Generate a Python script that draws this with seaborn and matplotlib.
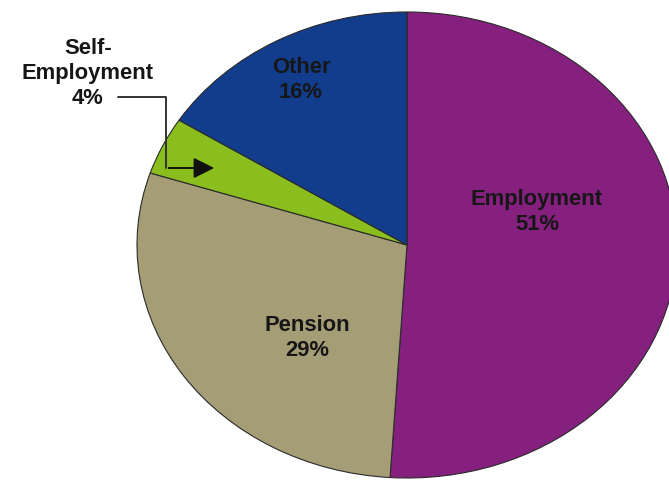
import matplotlib
matplotlib.use("Agg")
import matplotlib.pyplot as plt
import seaborn as sns
from matplotlib.lines import Line2D
from matplotlib.patches import FancyArrowPatch

sns.set_theme(style="white")
plt.rcParams["font.family"] = ["Liberation Sans", "DejaVu Sans"]

# Income sources, clockwise from 12 o'clock
categories = ["Employment", "Pension", "Self-\nEmployment", "Other"]
shares = [51, 29, 4, 16]
colors = ["#86207F", "#A59D76", "#89BE1E", "#123C8C"]

W, H = 669, 480
fig = plt.figure(figsize=(W / 100, H / 100), dpi=100)


def fpos(x, y):
    """Pixel position (from top-left) to figure fraction."""
    return x / W, 1 - y / H


# Elliptical pie: axes stretched wider than tall, right side runs off the canvas
cx, cy, rx, ry = 407, 245, 270, 233
ax = fig.add_axes([(cx - rx) / W, 1 - (cy + ry) / H, 2 * rx / W, 2 * ry / H])
wedges, _ = ax.pie(
    shares,
    colors=colors,
    startangle=90,
    counterclock=False,
    radius=1,
    wedgeprops=dict(edgecolor="#2a2a2a", linewidth=0.8),
)
ax.set_xlim(-1, 1)
ax.set_ylim(-1, 1)
ax.set_aspect("auto")
ax.axis("off")

text_kw = dict(ha="center", va="center", fontsize=15.8, fontweight="bold",
               color="#161616", linespacing=1.25)

label_pos = {
    "Employment": (537, 212),
    "Pension": (307, 338),
    "Other": (301, 80),
    "Self-\nEmployment": (88, 73),
}
for name, val in zip(categories, shares):
    x, y = label_pos[name]
    fig.text(*fpos(x, y), f"{name}\n{val}%", **text_kw)

# Elbow leader from the small slice's label into the slice
pts = [(118, 97), (166, 97), (166, 168)]
fx, fy = zip(*[fpos(*p) for p in pts])
fig.add_artist(Line2D(fx, fy, transform=fig.transFigure, color="#333333", lw=1.4))
fig.add_artist(
    FancyArrowPatch(
        fpos(166, 168), fpos(217, 168), transform=fig.transFigure,
        arrowstyle="-|>,head_length=9,head_width=4.5",
        mutation_scale=1.4, color="#111111", lw=1.4,
    )
)

fig.savefig("out.png", dpi=100)
